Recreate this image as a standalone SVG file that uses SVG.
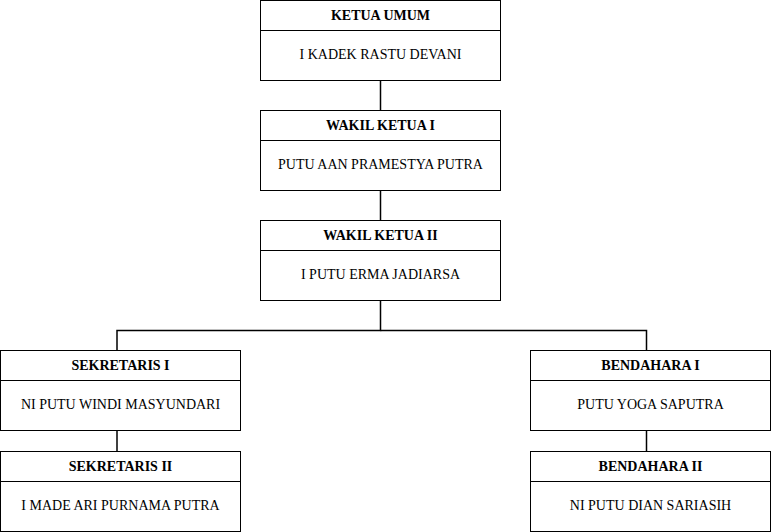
<svg xmlns="http://www.w3.org/2000/svg" width="771" height="532" viewBox="0 0 771 532">
<style>
.box{fill:#fff;stroke:#000;stroke-width:1}
.div{stroke:#000;stroke-width:1}
text{font-family:"Liberation Serif","Times New Roman",Times,"DejaVu Serif",serif;font-size:14px;text-anchor:middle;fill:#000}
.h{font-weight:bold}
.c{fill:none;stroke:#000;stroke-width:1.5}
</style>
<rect width="771" height="532" fill="#fff"/>
<g id="connectors">
<path class="c" d="M380.5 80.5V110.5"/>
<path class="c" d="M380.5 190.5V220.5"/>
<path class="c" d="M380.5 300.5V330.5H117V350.5"/>
<path class="c" d="M380.5 330.5H646.5V350.5"/>
<path class="c" d="M117 430.5V451.5"/>
<path class="c" d="M646.5 430.5V451.5"/>
</g>
<g id="ketua-umum">
<rect class="box" x="260.5" y="0.5" width="240" height="80"/>
<line class="div" x1="260.5" y1="30.5" x2="500.5" y2="30.5"/>
<text class="h" x="380.5" y="20">KETUA UMUM</text>
<text class="n" x="380.5" y="59">I KADEK RASTU DEVANI</text>
</g>
<g id="wakil-ketua-1">
<rect class="box" x="260.5" y="110.5" width="240" height="80"/>
<line class="div" x1="260.5" y1="140.5" x2="500.5" y2="140.5"/>
<text class="h" x="380.5" y="130">WAKIL KETUA I</text>
<text class="n" x="380.5" y="169">PUTU AAN PRAMESTYA PUTRA</text>
</g>
<g id="wakil-ketua-2">
<rect class="box" x="260.5" y="220.5" width="240" height="80"/>
<line class="div" x1="260.5" y1="250.5" x2="500.5" y2="250.5"/>
<text class="h" x="380.5" y="240">WAKIL KETUA II</text>
<text class="n" x="380.5" y="279">I PUTU ERMA JADIARSA</text>
</g>
<g id="sekretaris-1">
<rect class="box" x="0.5" y="350.5" width="240" height="80"/>
<line class="div" x1="0.5" y1="380.5" x2="240.5" y2="380.5"/>
<text class="h" x="120.5" y="370">SEKRETARIS I</text>
<text class="n" x="120.5" y="409">NI PUTU WINDI MASYUNDARI</text>
</g>
<g id="sekretaris-2">
<rect class="box" x="0.5" y="451.5" width="240" height="80"/>
<line class="div" x1="0.5" y1="481.5" x2="240.5" y2="481.5"/>
<text class="h" x="120.5" y="471">SEKRETARIS II</text>
<text class="n" x="120.5" y="510">I MADE ARI PURNAMA PUTRA</text>
</g>
<g id="bendahara-1">
<rect class="box" x="530.5" y="350.5" width="240" height="80"/>
<line class="div" x1="530.5" y1="380.5" x2="770.5" y2="380.5"/>
<text class="h" x="650.5" y="370">BENDAHARA I</text>
<text class="n" x="650.5" y="409">PUTU YOGA SAPUTRA</text>
</g>
<g id="bendahara-2">
<rect class="box" x="530.5" y="451.5" width="240" height="80"/>
<line class="div" x1="530.5" y1="481.5" x2="770.5" y2="481.5"/>
<text class="h" x="650.5" y="471">BENDAHARA II</text>
<text class="n" x="650.5" y="510">NI PUTU DIAN SARIASIH</text>
</g>
</svg>
